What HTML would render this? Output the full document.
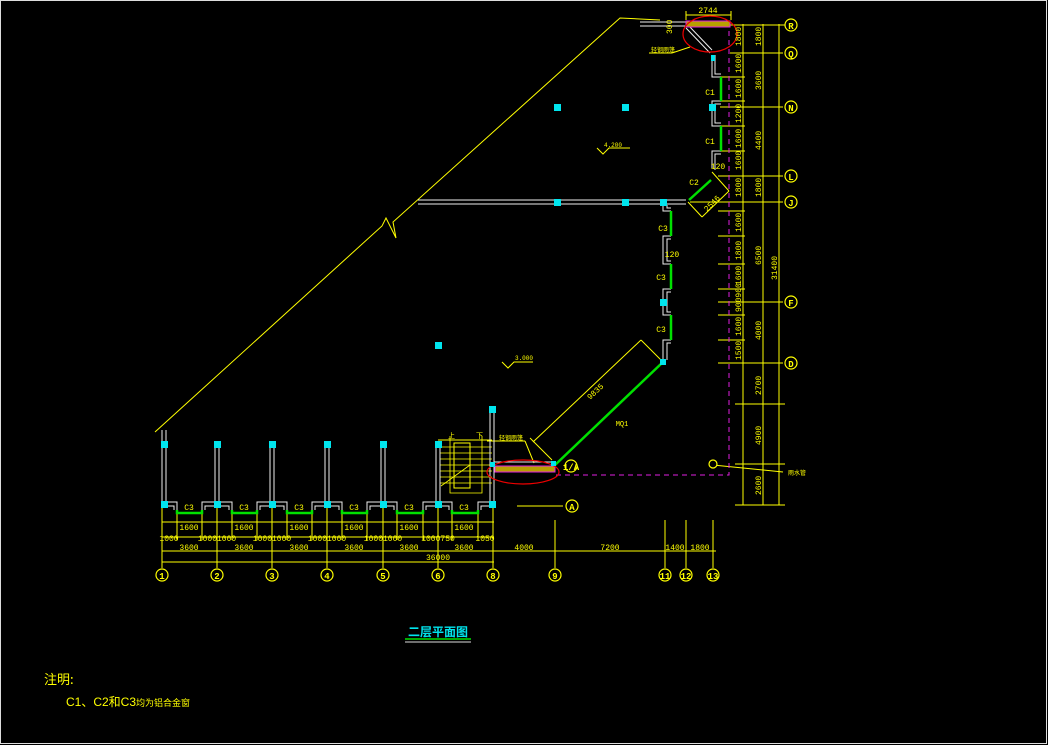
<!DOCTYPE html>
<html><head><meta charset="utf-8"><style>
html,body{margin:0;padding:0;background:#000;}
svg{display:block;font-family:"Liberation Sans","Noto Sans CJK SC",sans-serif;}
</style></head><body>
<svg width="1048" height="745" viewBox="0 0 1048 745" xmlns="http://www.w3.org/2000/svg">
<rect x="0" y="0" width="1048" height="745" fill="#000"/>
<rect x="0.5" y="0.5" width="1046" height="743" fill="none" stroke="#ddd" stroke-width="1"/>
<g stroke="#ff0" stroke-width="1" fill="none">
<!-- long diagonal -->
<polyline points="155,432 382,226 386,218 396,238 393,222 620,18 660,20"/>
<!-- top dim 2744 -->
<line x1="686" y1="15" x2="731" y2="15"/><line x1="686" y1="11" x2="686" y2="20"/><line x1="731" y1="11" x2="731" y2="20"/>
<!-- right dim lines -->
<line x1="743" y1="24" x2="743" y2="505"/>
<line x1="763" y1="24" x2="763" y2="505"/>
<line x1="779" y1="24" x2="779" y2="505"/>
<line x1="730" y1="25" x2="783" y2="25"/><line x1="730" y1="53" x2="783" y2="53"/>
<line x1="720" y1="107" x2="783" y2="107"/><line x1="718" y1="176" x2="783" y2="176"/>
<line x1="690" y1="202" x2="783" y2="202"/><line x1="718" y1="302" x2="783" y2="302"/>
<line x1="718" y1="363" x2="783" y2="363"/>
<line x1="720" y1="77" x2="745" y2="77"/><line x1="720" y1="101" x2="745" y2="101"/><line x1="720" y1="126" x2="745" y2="126"/><line x1="720" y1="151" x2="745" y2="151"/>
<line x1="718" y1="211" x2="745" y2="211"/><line x1="718" y1="236" x2="745" y2="236"/><line x1="718" y1="264" x2="745" y2="264"/><line x1="718" y1="289" x2="745" y2="289"/><line x1="718" y1="315" x2="745" y2="315"/><line x1="718" y1="340" x2="745" y2="340"/>
<line x1="735" y1="404" x2="785" y2="404"/><line x1="735" y1="464" x2="785" y2="464"/><line x1="735" y1="505" x2="785" y2="505"/>
<line x1="779" y1="25" x2="786" y2="25"/>
<line x1="783" y1="25" x2="786" y2="25"/>
<line x1="783" y1="25" x2="784" y2="25"/>
<!-- axis leaders right -->
<line x1="779" y1="25" x2="785" y2="25"/>
<!-- bottom dims -->
<line x1="162" y1="522" x2="494" y2="522"/>
<line x1="162" y1="537" x2="494" y2="537"/>
<line x1="162" y1="551" x2="716" y2="551"/>
<line x1="162" y1="562" x2="494" y2="562"/>
<g>
<line x1="162" y1="505" x2="162" y2="568"/><line x1="217" y1="505" x2="217" y2="568"/><line x1="272" y1="505" x2="272" y2="568"/><line x1="327" y1="505" x2="327" y2="568"/><line x1="383" y1="505" x2="383" y2="568"/><line x1="438" y1="505" x2="438" y2="568"/><line x1="493" y1="505" x2="493" y2="568"/><line x1="555" y1="520" x2="555" y2="568"/><line x1="665" y1="520" x2="665" y2="568"/><line x1="686" y1="520" x2="686" y2="568"/><line x1="713" y1="520" x2="713" y2="568"/>
<line x1="177" y1="512" x2="177" y2="540"/><line x1="202" y1="512" x2="202" y2="540"/><line x1="232" y1="512" x2="232" y2="540"/><line x1="257" y1="512" x2="257" y2="540"/><line x1="287" y1="512" x2="287" y2="540"/><line x1="312" y1="512" x2="312" y2="540"/><line x1="342" y1="512" x2="342" y2="540"/><line x1="367" y1="512" x2="367" y2="540"/><line x1="397" y1="512" x2="397" y2="540"/><line x1="423" y1="512" x2="423" y2="540"/><line x1="452" y1="512" x2="452" y2="540"/><line x1="478" y1="512" x2="478" y2="540"/>
</g>
<line x1="517" y1="506" x2="563" y2="506"/>
<!-- MQ1 dim -->
<line x1="533" y1="442" x2="641" y2="340"/><line x1="530" y1="438" x2="552" y2="460"/><line x1="641" y1="340" x2="663" y2="362"/>
<!-- 2546 dim -->
<line x1="688" y1="202" x2="702" y2="217"/><line x1="702" y1="217" x2="729" y2="191"/><line x1="729" y1="191" x2="712" y2="172"/>
<!-- leaders -->
<line x1="672" y1="53" x2="690" y2="47"/><line x1="649" y1="53" x2="672" y2="53"/>
<line x1="487" y1="441" x2="525" y2="441"/><line x1="525" y1="441" x2="534" y2="463"/>
<line x1="713" y1="465" x2="783" y2="472"/>
<!-- elev marks -->
<polyline points="597,148 603,154 609,148 630,148"/>
<polyline points="502,362 508,368 514,362 533,362"/>
<!-- stairs -->
<rect x="454" y="443" width="16" height="45"/>
<line x1="438" y1="440" x2="492" y2="440"/>
<g stroke-width="0.8">
<line x1="440" y1="447" x2="492" y2="447"/><line x1="440" y1="453" x2="492" y2="453"/><line x1="440" y1="459" x2="492" y2="459"/><line x1="440" y1="465" x2="492" y2="465"/><line x1="440" y1="471" x2="492" y2="471"/><line x1="440" y1="477" x2="492" y2="477"/><line x1="440" y1="483" x2="492" y2="483"/>
<line x1="441" y1="486" x2="470" y2="465"/>
<polyline points="450,436 450,493 482,493 482,436"/>
</g>
</g>
<!-- axis circles -->
<g stroke="#ff0" stroke-width="1.2" fill="#000" font-size="11" font-weight="bold">
<g fill="#000">
<circle cx="162" cy="575" r="6"/><circle cx="217" cy="575" r="6"/><circle cx="272" cy="575" r="6"/><circle cx="327" cy="575" r="6"/><circle cx="383" cy="575" r="6"/><circle cx="438" cy="575" r="6"/><circle cx="493" cy="575" r="6"/><circle cx="555" cy="575" r="6"/><circle cx="665" cy="575" r="6"/><circle cx="686" cy="575" r="6"/><circle cx="713" cy="575" r="6"/>
<circle cx="791" cy="25" r="6"/><circle cx="791" cy="53" r="6"/><circle cx="791" cy="107" r="6"/><circle cx="791" cy="176" r="6"/><circle cx="791" cy="202" r="6"/><circle cx="791" cy="302" r="6"/><circle cx="791" cy="363" r="6"/>
<circle cx="572" cy="506" r="6"/><circle cx="571" cy="466" r="6"/>
<circle cx="713" cy="464" r="4"/>
</g>
</g>
<g fill="#ff0" font-size="9" text-anchor="middle" font-family="Liberation Mono,monospace" font-weight="bold">
<text x="162" y="579">1</text><text x="217" y="579">2</text><text x="272" y="579">3</text><text x="327" y="579">4</text><text x="383" y="579">5</text><text x="438" y="579">6</text><text x="493" y="579">8</text><text x="555" y="579">9</text><text x="665" y="579">11</text><text x="686" y="579">12</text><text x="713" y="579">13</text>
<text x="791" y="29">R</text><text x="791" y="57">Q</text><text x="791" y="111">N</text><text x="791" y="180">L</text><text x="791" y="206">J</text><text x="791" y="306">F</text><text x="791" y="367">D</text>
<text x="572" y="510">A</text><text x="571" y="470">1/A</text>
</g>
<!-- magenta dashed -->
<g stroke="#e020e0" stroke-width="1" stroke-dasharray="5,4" fill="none">
<polyline points="729,22 729,475 556,475"/>
</g>
<!-- white walls -->
<g stroke="#eee" stroke-width="1" fill="none">
<line x1="418" y1="200" x2="686" y2="200"/><line x1="418" y1="204" x2="686" y2="204"/>
<line x1="640" y1="22" x2="686" y2="22"/><line x1="640" y1="26" x2="686" y2="26"/>
<line x1="688" y1="25" x2="712" y2="50"/><line x1="686" y1="28" x2="710" y2="53"/>
<polyline points="712,55 712,77 721,77"/><polyline points="715,55 715,74 721,74"/>
<polyline points="721,101 712,101 712,126 721,126"/><polyline points="721,104 715,104 715,123 721,123"/>
<polyline points="721,151 712,151 712,168"/><polyline points="721,154 715,154 715,170"/>
<polyline points="663,205 663,211 671,211"/><polyline points="667,205 667,208 671,208"/>
<polyline points="671,236 663,236 663,264 671,264"/><polyline points="671,239 667,239 667,261 671,261"/>
<polyline points="671,289 663,289 663,315 671,315"/><polyline points="671,292 667,292 667,312 671,312"/>
<polyline points="671,340 663,340 663,362"/><polyline points="671,343 667,343 667,360"/>
<g>
<line x1="162" y1="430" x2="162" y2="504"/><line x1="166" y1="430" x2="166" y2="504"/>
<line x1="215" y1="444" x2="215" y2="504"/><line x1="219" y1="444" x2="219" y2="504"/>
<line x1="270" y1="444" x2="270" y2="504"/><line x1="274" y1="444" x2="274" y2="504"/>
<line x1="325" y1="444" x2="325" y2="504"/><line x1="329" y1="444" x2="329" y2="504"/>
<line x1="381" y1="444" x2="381" y2="504"/><line x1="385" y1="444" x2="385" y2="504"/>
<line x1="436" y1="444" x2="436" y2="504"/><line x1="440" y1="444" x2="440" y2="504"/>
<line x1="490" y1="410" x2="490" y2="504"/><line x1="494" y1="410" x2="494" y2="504"/>
<polyline points="164,502 177,502 177,510"/><polyline points="164,506 174,506 174,510"/>
<polyline points="202,510 202,502 232,502 232,510"/><polyline points="205,510 205,506 229,506 229,510"/>
<polyline points="257,510 257,502 287,502 287,510"/><polyline points="260,510 260,506 284,506 284,510"/>
<polyline points="312,510 312,502 342,502 342,510"/><polyline points="315,510 315,506 339,506 339,510"/>
<polyline points="367,510 367,502 397,502 397,510"/><polyline points="370,510 370,506 394,506 394,510"/>
<polyline points="423,510 423,502 452,502 452,510"/><polyline points="426,510 426,506 449,506 449,510"/>
<polyline points="478,510 478,502 492,502"/><polyline points="481,510 481,506 492,506"/>
<line x1="494" y1="462" x2="555" y2="462"/><line x1="494" y1="466" x2="555" y2="466"/>
</g>
</g>
<!-- green windows/walls -->
<g stroke="#00e000" stroke-width="2.5" fill="none">
<polyline points="177,510 177,513 202,513 202,510"/>
<polyline points="232,510 232,513 257,513 257,510"/>
<polyline points="287,510 287,513 312,513 312,510"/>
<polyline points="342,510 342,513 367,513 367,510"/>
<polyline points="397,510 397,513 423,513 423,510"/>
<polyline points="452,510 452,513 478,513 478,510"/>
<polyline points="721,77 721,101"/><polyline points="721,126 721,151"/>
<polyline points="671,211 671,236"/><polyline points="671,264 671,289"/><polyline points="671,315 671,340"/>
<line x1="555" y1="465" x2="663" y2="362"/>
<line x1="689" y1="200" x2="711" y2="180"/>
</g>
<!-- hatch -->
<rect x="495" y="466" width="60" height="6" fill="#b8a000" stroke="#e020e0" stroke-width="1"/>
<rect x="686" y="21" width="44" height="6" fill="#b8a000" stroke="#e020e0" stroke-width="1"/>
<!-- red ellipses -->
<ellipse cx="523" cy="472" rx="36" ry="12" fill="none" stroke="#e00" stroke-width="1.2"/>
<ellipse cx="710" cy="34" rx="27" ry="18" fill="none" stroke="#e00" stroke-width="1.2"/>
<!-- cyan columns -->
<g fill="#00e5ee">
<rect x="554" y="104" width="7" height="7"/><rect x="622" y="104" width="7" height="7"/>
<rect x="554" y="199" width="7" height="7"/><rect x="622" y="199" width="7" height="7"/><rect x="660" y="199" width="7" height="7"/>
<rect x="435" y="342" width="7" height="7"/><rect x="660" y="299" width="7" height="7"/><rect x="660" y="359" width="6" height="6"/>
<rect x="709" y="104" width="7" height="7"/><rect x="711" y="55" width="4" height="6"/>
<rect x="161" y="441" width="7" height="7"/><rect x="214" y="441" width="7" height="7"/><rect x="269" y="441" width="7" height="7"/><rect x="324" y="441" width="7" height="7"/><rect x="380" y="441" width="7" height="7"/><rect x="435" y="441" width="7" height="7"/>
<rect x="161" y="501" width="7" height="7"/><rect x="214" y="501" width="7" height="7"/><rect x="269" y="501" width="7" height="7"/><rect x="324" y="501" width="7" height="7"/><rect x="380" y="501" width="7" height="7"/><rect x="435" y="501" width="7" height="7"/><rect x="489" y="501" width="7" height="7"/>
<rect x="489" y="406" width="7" height="7"/><rect x="490" y="462" width="5" height="5"/><rect x="551" y="461" width="5" height="5"/>
</g>
<!-- texts -->
<g fill="#ff0" font-size="8" font-family="Liberation Mono,monospace">
<g text-anchor="middle">
<text x="189" y="510">C3</text><text x="244" y="510">C3</text><text x="299" y="510">C3</text><text x="354" y="510">C3</text><text x="409" y="510">C3</text><text x="464" y="510">C3</text>
<text x="189" y="530">1600</text><text x="244" y="530">1600</text><text x="299" y="530">1600</text><text x="354" y="530">1600</text><text x="409" y="530">1600</text><text x="464" y="530">1600</text>
<text x="169" y="541">1000</text><text x="217" y="541">10001000</text><text x="272" y="541">10001000</text><text x="327" y="541">10001000</text><text x="383" y="541">10001000</text><text x="438" y="541">1000750</text><text x="485" y="541">1050</text>
<text x="189" y="550">3600</text><text x="244" y="550">3600</text><text x="299" y="550">3600</text><text x="354" y="550">3600</text><text x="409" y="550">3600</text><text x="464" y="550">3600</text>
<text x="524" y="550">4000</text><text x="610" y="550">7200</text><text x="675" y="550">1400</text><text x="700" y="550">1800</text>
<text x="438" y="560">36000</text>
<text x="708" y="13">2744</text>
<text x="663" y="231">C3</text><text x="661" y="280">C3</text><text x="661" y="332">C3</text>
<text x="694" y="185">C2</text><text x="710" y="95">C1</text><text x="710" y="144">C1</text>
<text x="672" y="257">120</text><text x="718" y="169">120</text>
<text x="613" y="147" font-size="6">4.200</text><text x="524" y="360" font-size="6">3.000</text>
<text x="622" y="426" font-size="7">MQ1</text>
</g>
<text transform="translate(590,400) rotate(-43)" font-size="8">9835</text>
<text transform="translate(707,212) rotate(-45)" font-size="8">2546</text>
<text transform="translate(672,34) rotate(-90)" font-size="8">300</text>
<g font-size="8">
<text transform="translate(741,46) rotate(-90)">1800</text>
<text transform="translate(741,73) rotate(-90)">1600</text>
<text transform="translate(741,98) rotate(-90)">1600</text>
<text transform="translate(741,123) rotate(-90)">1200</text>
<text transform="translate(741,148) rotate(-90)">1600</text>
<text transform="translate(741,170) rotate(-90)">1600</text>
<text transform="translate(741,197) rotate(-90)">1800</text>
<text transform="translate(741,232) rotate(-90)">1600</text>
<text transform="translate(741,260) rotate(-90)">1800</text>
<text transform="translate(741,285) rotate(-90)">1600</text>
<text transform="translate(741,312) rotate(-90)">900900</text>
<text transform="translate(741,336) rotate(-90)">1600</text>
<text transform="translate(741,360) rotate(-90)">1500</text>
<text transform="translate(761,46) rotate(-90)">1800</text>
<text transform="translate(761,90) rotate(-90)">3600</text>
<text transform="translate(761,150) rotate(-90)">4400</text>
<text transform="translate(761,197) rotate(-90)">1800</text>
<text transform="translate(761,265) rotate(-90)">6500</text>
<text transform="translate(761,340) rotate(-90)">4000</text>
<text transform="translate(761,395) rotate(-90)">2700</text>
<text transform="translate(761,445) rotate(-90)">4900</text>
<text transform="translate(761,495) rotate(-90)">2600</text>
<text transform="translate(777,280) rotate(-90)">31400</text>
</g>
<text x="499" y="440" font-size="6" font-family="'Noto Sans CJK SC',sans-serif">轻钢雨篷</text>
<text x="651" y="52" font-size="6" font-family="'Noto Sans CJK SC',sans-serif">轻钢雨篷</text>
<text x="788" y="475" font-size="6" font-family="'Noto Sans CJK SC',sans-serif">雨水管</text>
<text x="448" y="438" font-size="7" font-family="'Noto Sans CJK SC',sans-serif">上</text>
<text x="476" y="438" font-size="7" font-family="'Noto Sans CJK SC',sans-serif">下</text>
</g>
<!-- title -->
<text x="438" y="636" fill="#00e5ee" font-size="12" text-anchor="middle" font-family="'Noto Sans CJK SC',sans-serif" font-weight="bold">二层平面图</text>
<line x1="405" y1="639" x2="471" y2="639" stroke="#00e000" stroke-width="1.5"/>
<line x1="405" y1="642" x2="471" y2="642" stroke="#ddd" stroke-width="1"/>
<text x="44" y="684" fill="#ff0" font-size="13" font-family="'Noto Sans CJK SC',sans-serif">注明:</text>
<text x="66" y="706" fill="#ff0" font-size="12" font-family="'Liberation Sans','Noto Sans CJK SC',sans-serif">C1、C2和C3<tspan font-size="9">均为铝合金窗</tspan></text>
</svg>
</body></html>
